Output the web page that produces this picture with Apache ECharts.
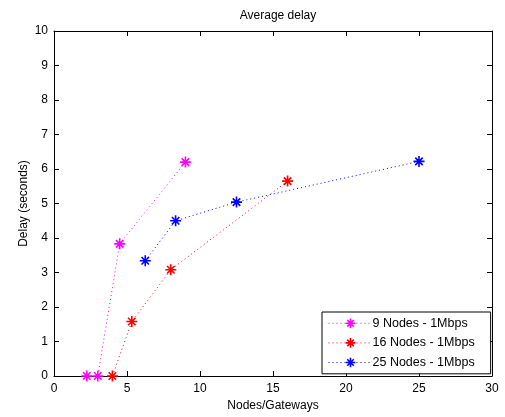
<!DOCTYPE html>
<html>
<head>
<meta charset="utf-8">
<script src="https://cdn.jsdelivr.net/npm/echarts@6/dist/echarts.min.js"></script>
<style>
  html, body { margin: 0; padding: 0; background: #fff; }
  #chart { width: 505px; height: 417px; }
</style>
</head>
<body>
<div id="chart"></div>
<script>
// data
var names = ['9 Nodes - 1Mbps', '16 Nodes - 1Mbps', '25 Nodes - 1Mbps'];
var colors = ['#ff00ff', '#ff0000', '#0000ff'];
var x9 = [2.25, 3, 4.5, 9];
var y9 = [0, 0, 3.83, 6.2];
var x16 = [4, 5.33, 8, 16];
var y16 = [0, 1.58, 3.08, 5.65];
var x25 = [6.25, 8.33, 12.5, 25];
var y25 = [3.34, 4.5, 5.04, 6.22];

var star = 'path://M5 0L5 10M0 5L10 5M1.6 1.6L8.4 8.4M8.4 1.6L1.6 8.4';
var font = 'Liberation Sans, Arial, sans-serif';

function pairs(xs, ys) {
  return xs.map(function (v, i) { return [v, ys[i]]; });
}

var chart = echarts.init(document.getElementById('chart'));

function makeSeries(i, xs, ys) {
  return {
    name: names[i],
    type: 'line',
    color: colors[i],
    data: pairs(xs, ys),
    symbol: star,
    symbolSize: 11,
    showSymbol: true,
    lineStyle: { color: colors[i], width: 1, type: [1, 3] },
    itemStyle: { color: 'none', borderColor: colors[i], borderWidth: 1.6 },
    emphasis: { disabled: true },
    animation: false,
    z: 3 + i
  };
}

var axisCommon = {
  axisLine: { show: true, onZero: false, lineStyle: { color: '#000', width: 1 } },
  axisTick: { show: true, inside: true, length: 5, lineStyle: { color: '#000' } },
  splitLine: { show: false }
};

var legendData = names.map(function (n, i) {
  return {
    name: n,
    lineStyle: { color: colors[i], width: 1, type: [1, 3] },
    itemStyle: { color: 'none', borderColor: colors[i], borderWidth: 1.6 }
  };
});

chart.setOption({
  animation: false,
  title: {
    text: 'Average delay',
    left: 273,
    textAlign: 'center',
    top: 5,
    textStyle: { fontFamily: font, fontSize: 12, fontWeight: 'normal', color: '#000' }
  },
  grid: { left: 54, right: 13, top: 31, bottom: 39 },
  legend: {
    orient: 'vertical',
    left: 322,
    top: 312,
    padding: [4, 16, 4, 6],
    itemGap: 5,
    itemWidth: 44,
    itemHeight: 12,
    backgroundColor: '#fff',
    borderColor: '#000',
    borderWidth: 1,
    borderRadius: 0,
    selectedMode: false,
    textStyle: { fontFamily: font, fontSize: 12.5, color: '#000', padding: [0, 4, 0, -5] },
    data: legendData
  },
  xAxis: [
    Object.assign({
      type: 'value', min: 0, max: 30, interval: 5, position: 'bottom',
      name: 'Nodes/Gateways', nameLocation: 'middle', nameGap: 24, nameMoveOverlap: false,
      nameTextStyle: { fontFamily: font, fontSize: 12, color: '#000' },
      axisLabel: { fontFamily: font, fontSize: 12, color: '#000', margin: 7 }
    }, axisCommon),
    Object.assign({
      type: 'value', min: 0, max: 30, interval: 5, position: 'top',
      axisLabel: { show: false }
    }, axisCommon)
  ],
  yAxis: [
    Object.assign({
      type: 'value', min: 0, max: 10, interval: 1, position: 'left',
      name: 'Delay (seconds)', nameLocation: 'middle', nameGap: 24, nameMoveOverlap: false,
      nameTextStyle: { fontFamily: font, fontSize: 12, color: '#000' },
      axisLabel: { fontFamily: font, fontSize: 12, color: '#000', margin: 6 }
    }, axisCommon),
    Object.assign({
      type: 'value', min: 0, max: 10, interval: 1, position: 'right',
      axisLabel: { show: false }
    }, axisCommon)
  ],
  series: [
    makeSeries(0, x9, y9),
    makeSeries(1, x16, y16),
    makeSeries(2, x25, y25)
  ]
});
</script>
</body>
</html>
